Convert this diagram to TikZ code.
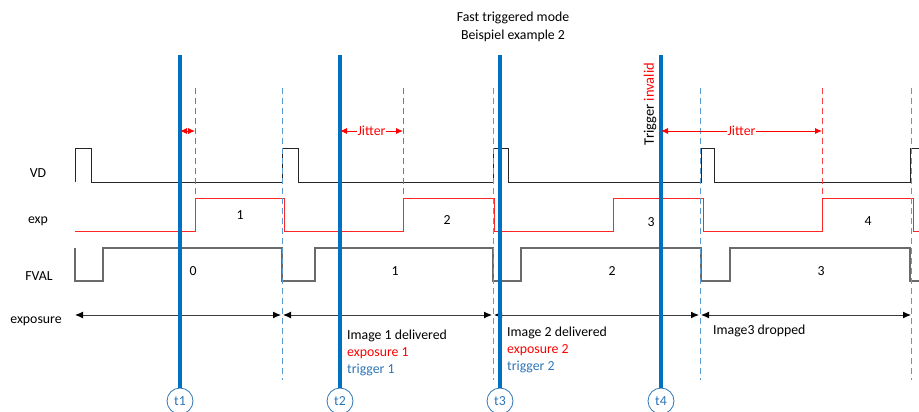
\documentclass[tikz,border=0pt]{standalone}
\usepackage{fontspec}
\setmainfont{Carlito}
\usepackage{xcolor}
\usepackage{tikz}
\usetikzlibrary{
  arrows.meta,
  calc
}
\definecolor{TriggerBlue}{HTML}{0070C0}
\definecolor{FrameBlue}{HTML}{5B9BD5}
\definecolor{NoteBlue}{HTML}{2E75B6}
\definecolor{SignalRed}{HTML}{FF0000}
\definecolor{SignalDark}{HTML}{262626}
\definecolor{SignalGray}{HTML}{6A6A6A}
\tikzset{
  trigger/.style={
    draw=TriggerBlue,
    line width=4pt
  },
  framemark/.style={
    draw=FrameBlue,
    line width=1pt,
    dash pattern=on 6pt off 4pt
  },
  jittermark/.style={
    draw=SignalRed!75,
    line width=1pt,
    dash pattern=on 6pt off 4pt
  },
  vdline/.style={
    draw=SignalDark,
    line width=0.9pt
  },
  expline/.style={
    draw=SignalRed!85,
    line width=1pt
  },
  fvalline/.style={
    draw=SignalGray,
    line width=1.2pt
  },
  span/.style={
    {Latex[length=8pt,width=7pt,color=black]}-{Latex[length=8pt,width=7pt,color=black]},
    draw=SignalDark!90,
    line width=1pt
  },
  jitter/.style={
    {Latex[length=7pt,width=6pt]}-{Latex[length=7pt,width=6pt]},
    draw=SignalRed,
    fill=SignalRed,
    line width=0.9pt
  },
  tick/.style={
    circle,
    draw=NoteBlue,
    line width=0.8pt,
    fill=white,
    text=NoteBlue,
    minimum size=26pt,
    inner sep=0pt
  },
  rowlabel/.style={
    anchor=center,
    inner sep=0pt
  },
  count/.style={
    anchor=center,
    inner sep=0pt
  },
  note/.style={
    anchor=north west,
    align=left,
    inner sep=0pt
  }
}

\begin{document}
\begin{tikzpicture}[x=1pt,y=-1pt,font=\fontsize{13.8}{17}\selectfont]

  \useasboundingbox (0,0) rectangle (919,412);

  \node[
    align=center,
    font=\fontsize{13.8}{18}\selectfont
  ] at (513,27) (title) {
    Fast triggered mode\\Beispiel example 2
  };

  \node[rowlabel] at (38,173) (vd) {VD};
  \node[rowlabel] at (38,221) (exp) {exp};
  \node[rowlabel] at (39,276) (fval) {FVAL};
  \node[rowlabel] at (36,321) (exposure) {exposure};

  \draw[vdline]
  (75,182) -- (75,148) -- (91,148) -- (91,182) --
  (282,182) -- (282,148) -- (298,148) -- (298,182) --
  (493,182) -- (493,148) -- (508,148) -- (508,182) --
  (701,182) -- (701,148) -- (714,148) -- (714,182) --
  (910,182) -- (910,148) -- (919,148);

  \draw[expline]
  (75,231) -- (195,231) -- (195,198) -- (284,198) -- (284,231) --
  (403,231) -- (403,198) -- (494,198) -- (494,231) --
  (613,231) -- (613,198) -- (703,198) -- (703,231) --
  (822,231) -- (822,198) -- (913,198) -- (913,231) -- (919,231);

  \draw[fvalline]
  (75,248) -- (75,281) -- (103,281) -- (103,248) --
  (282,248) -- (282,281) -- (315,281) -- (315,248) --
  (493,248) -- (493,281) -- (521,281) -- (521,248) --
  (701,248) -- (701,281) -- (730,281) -- (730,248) --
  (910,248) -- (910,281) -- (919,281);

  \foreach \x/\n/\y in {240/1/215,447/2/220,651/3/222,868/4/221} {
    \node[count] at (\x,\y) (exp\n) {\n};
  }

  \foreach \x/\n in {193/0,395/1,612/2,821/3} {
    \node[count] at (\x,271) (fval\n) {\n};
  }

  \foreach \x/\n in {75/0,282/1,493/2,700/3,911/4} {
    \coordinate (edge\n) at (\x,315);
  }

  \draw[span] (edge0) -- ($(edge1)+(-1,0)$);
  \draw[span] ($(edge1)+(1,0)$) -- ($(edge2)+(-1,0)$);
  \draw[span] ($(edge2)+(1,0)$) -- ($(edge3)+(-1,0)$);
  \draw[span] ($(edge3)+(1,0)$) -- (edge4);

  \foreach \x in {282,493,700,911} {
    \draw[framemark]
    (\x,88) --
    (\x,380);
  }

  \foreach \x in {195,403,822} {
    \draw[jittermark]
    (\x,88) --
    (\x,198);
  }

  \foreach \x/\n in {180/1,340/2,500/3,661/4} {
    \node[tick] at (\x,401) (t\n) {t\n};
    \draw[trigger]
    (t\n.north) --
    (t\n.north |- 0,55);
    \coordinate (jit\n) at (\x,131);
  }

  \draw[jitter] (jit1) -- (195,131);

  \draw[jitter]
  (jit2) --
  node[
    fill=white,
    text=SignalRed,
    inner sep=1pt
  ] (jittertwo) {
    Jitter
  }
  (403,131);

  \draw[jitter]
  (jit4) --
  node[
    fill=white,
    text=SignalRed,
    inner sep=1pt
  ] (jitterfour) {
    Jitter
  }
  (822,131);

  \node[
    rotate=90,
    inner sep=0pt,
    font=\fontsize{14.5}{17}\selectfont
  ] at (650,104) (invalid) {
    Trigger \textcolor{SignalRed}{invalid}
  };

  \node[note] at (347,330) (image1) {
    Image 1 delivered\\
    \textcolor{SignalRed}{exposure 1}\\
    \textcolor{NoteBlue}{trigger 1}
  };

  \node[note] at (507,327) (image2) {
    Image 2 delivered\\
    \textcolor{SignalRed}{exposure 2}\\
    \textcolor{NoteBlue}{trigger 2}
  };

  \node[note] at (713,325) (image3) {
    Image3 dropped
  };

\end{tikzpicture}
\end{document}
